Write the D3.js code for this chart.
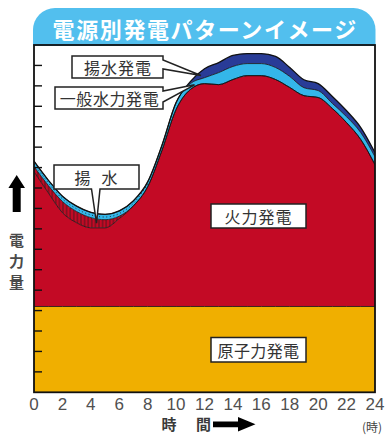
<!DOCTYPE html>
<html><head><meta charset="utf-8">
<script src="https://cdn.jsdelivr.net/npm/d3@7/dist/d3.min.js"></script>
<style>body{margin:0;background:#fff}</style>
</head><body>
<svg id="c" width="387" height="435"></svg>
<script>
// ---- data (units: relative power) ----
const hours      = [0,1,2,3,4,5,6,7,8,9,10,11,12,13,14,15,16,17,18,19,20,21,22,23,24];
const nuclear    = [4.2,4.2,4.2,4.2,4.2,4.2,4.2,4.2,4.2,4.2,4.2,4.2,4.2,4.2,4.2,4.2,4.2,4.2,4.2,4.2,4.2,4.2,4.2,4.2,4.2];
const thermal    = [6.60,5.57,4.59,4.10,3.85,3.85,4.30,4.93,5.86,7.63,9.64,10.62,10.91,10.86,11.11,11.30,11.30,11.11,10.72,10.32,10.23,9.69,9.00,8.17,6.94];
const pumping    = [0.25,0.36,0.55,0.55,0.50,0.40,0.12,0,0,0,0,0,0,0,0,0,0,0,0,0,0,0,0,0,0];
const hydro      = [0.26,0.26,0.26,0.26,0.26,0.26,0.26,0.25,0.24,0.25,0.34,0.29,0.29,0.59,0.64,0.59,0.59,0.59,0.54,0.39,0.34,0.25,0.29,0.34,0.39];
const pumpedGen  = [0,0,0,0,0,0,0,0,0,0,0,0.10,0.44,0.49,0.54,0.49,0.49,0.54,0.44,0.39,0.34,0.34,0.29,0.25,0.20];
const xTickValues = [0,2,4,6,8,10,12,14,16,18,20,22,24];
const yTickValues = [1,2,3,4,5,6,7,8,9,10,11,12,13,14,15,16];
const title = "電源別発電パターンイメージ";

const keys = ["nuclear","thermal","pumping","hydro","pumpedGen"];
const colors = {nuclear:"#F0AF00", thermal:"#C30A25", pumping:"url(#hatch)", hydro:"#34B6E9", pumpedGen:"#293C97"};

const rows = hours.map((h,i)=>({h, nuclear:nuclear[i], thermal:thermal[i], pumping:pumping[i], hydro:hydro[i], pumpedGen:pumpedGen[i]}));
const series = d3.stack().keys(keys)(rows);

const L=34, R=375, T=45, B=392.3;
const x = d3.scaleLinear([0,24],[L,R]);
const y = d3.scaleLinear([0,17],[B,T]);

const svg = d3.select("#c");
const defs = svg.append("defs");
const pat = defs.append("pattern").attr("id","hatch").attr("patternUnits","userSpaceOnUse").attr("width",3.6).attr("height",3);
pat.append("rect").attr("width",3.6).attr("height",3).attr("fill","#C30A25");
pat.append("line").attr("x1",1.8).attr("x2",1.8).attr("y1",0).attr("y2",3).attr("stroke","#1a1a1a").attr("stroke-width",0.7);
defs.append("clipPath").attr("id","plot").append("rect").attr("x",L).attr("y",T).attr("width",R-L).attr("height",B-T);

// header
const hr=22, hx0=33, hx1=375.5, hy0=8, hy1=46;
svg.append("path")
  .attr("d",`M${hx0},${hy1} V${hy0+hr} A${hr},${hr} 0 0 1 ${hx0+hr},${hy0} H${hx1-hr} A${hr},${hr} 0 0 1 ${hx1},${hy0+hr} V${hy1} Z`)
  .attr("fill","#52BFEE");
svg.append("text").attr("x",(hx0+hx1)/2+1).attr("y",28).attr("text-anchor","middle").attr("dominant-baseline","central")
  .attr("font-family","'Noto Sans CJK JP'").attr("font-weight","bold").attr("font-size",22).attr("letter-spacing",1.6)
  .attr("fill","#fff").text(title);

const g = svg.append("g").attr("clip-path","url(#plot)");
const area = d3.area().curve(d3.curveMonotoneX).x(d=>x(d.data.h)).y0(d=>y(d[0])).y1(d=>y(d[1]));
const topLine = d3.line().curve(d3.curveMonotoneX).x(d=>x(d.data.h)).y(d=>y(d[1]));

g.selectAll("path.a").data(series).join("path").attr("class","a")
  .attr("d",area).attr("fill",d=>colors[d.key]);
// dotted marks in the night hydro band
const nightHydro = series[3].filter(d=>d.data.h<=8);
g.append("path").attr("d", d3.line().curve(d3.curveMonotoneX).x(d=>x(d.data.h)).y(d=>y((d[0]+d[1])/2))(nightHydro))
  .attr("fill","none").attr("stroke","#222").attr("stroke-width",0.9).attr("stroke-dasharray","1,2.6");
g.selectAll("path.t").data(series).join("path").attr("class","t")
  .attr("d",topLine).attr("fill","none").attr("stroke","#111").attr("stroke-width",d=>d.key==="pumpedGen"?1.3:0.8);

// y ticks
svg.append("g").selectAll("line").data(yTickValues).join("line")
  .attr("x1",L).attr("x2",L+8).attr("y1",d=>y(d)).attr("y2",d=>y(d)).attr("stroke","#111").attr("stroke-width",1.4);

// border
svg.append("rect").attr("x",L).attr("y",T).attr("width",R-L).attr("height",B-T)
  .attr("fill","none").attr("stroke","#111").attr("stroke-width",1.8);

// x tick labels
svg.append("g").selectAll("text").data(xTickValues).join("text")
  .attr("x",d=>x(d)).attr("y",410).attr("text-anchor","middle")
  .attr("font-family","'Liberation Sans',Arial").attr("font-size",17).attr("fill","#505050").text(d=>d);
svg.append("text").attr("x",372).attr("y",432).attr("text-anchor","middle")
  .attr("font-family","'Noto Sans CJK JP'").attr("font-size",12).attr("fill","#444").text("(時)");

// x axis title with arrow
const jp = "'Noto Sans CJK JP'";
svg.append("text").attr("x",169).attr("y",430).attr("text-anchor","middle").attr("font-family",jp).attr("font-size",15).attr("font-weight","bold").attr("fill","#3a3a3a").text("時");
svg.append("text").attr("x",203.5).attr("y",430).attr("text-anchor","middle").attr("font-family",jp).attr("font-size",15).attr("font-weight","bold").attr("fill","#3a3a3a").text("間");
svg.append("path").attr("d","M213,421.5 H238 V417 L255.5,424.3 L238,431.6 V427.2 H213 Z").attr("fill","#000");

// y axis title with arrow
svg.append("path").attr("d","M16.7,175 L25,188 H20.7 V212 H12.7 V188 H8.4 Z").attr("fill","#000");
["電","力","量"].forEach((c,i)=>{
  svg.append("text").attr("x",16.5).attr("y",239+i*21).attr("text-anchor","middle").attr("dominant-baseline","central")
    .attr("font-family",jp).attr("font-size",15).attr("font-weight","bold").attr("fill","#4a4a4a").text(c);
});

// helpers for callouts
function interp(arr, h){ const i=Math.min(Math.floor(h),23), t=h-i; return arr[i]*(1-t)+arr[i+1]*t; }
function cum(h, upto){ let s=0; for(const k of keys.slice(0,upto)) s+=interp({nuclear,thermal,pumping,hydro,pumpedGen}[k],h); return s; }

function calloutRight(x0,y0,x1,y1,ty1,ty2,tip){
  return `M${x0},${y0} H${x1} V${ty1} L${tip[0]},${tip[1]} L${x1},${ty2} V${y1} H${x0} Z`;
}
function calloutBottom(x0,y0,x1,y1,tx1,tx2,tip){
  return `M${x0},${y0} H${x1} V${y1} H${tx2} L${tip[0]},${tip[1]} L${tx1},${y1} H${x0} Z`;
}
const boxStyle = s=>s.attr("fill","#fff").attr("stroke","#222").attr("stroke-width",1.5).attr("stroke-linejoin","miter");
const labelStyle = s=>s.attr("font-family",jp).attr("font-size",16).attr("fill","#333").attr("text-anchor","middle").attr("dominant-baseline","central");

// 揚水発電
const tipA = [x(11.75), y((cum(11.75,4)+cum(11.75,5))/2)];
svg.append("path").attr("d",calloutRight(72,56,163,78,60,69,tipA)).call(boxStyle);
svg.append("text").attr("x",118).attr("y",67).attr("letter-spacing",1).text("揚水発電").call(labelStyle);
// 一般水力発電
const tipB = [x(11.3), y((cum(11.3,3)+cum(11.3,4))/2)];
svg.append("path").attr("d",calloutRight(55,87,163,109,91,102,tipB)).call(boxStyle);
svg.append("text").attr("x",109.5).attr("y",98).attr("letter-spacing",0.6).text("一般水力発電").call(labelStyle);
// 揚 水
const tipC = [x(4.4), y((cum(4.4,2)+cum(4.4,3))/2)];
svg.append("path").attr("d",calloutBottom(54,165,139,189,91.5,100,tipC)).call(boxStyle);
svg.append("text").attr("x",82.5).attr("y",177).text("揚").call(labelStyle);
svg.append("text").attr("x",109.5).attr("y",177).text("水").call(labelStyle);
// 火力発電
svg.append("rect").attr("x",211).attr("y",204).attr("width",95).attr("height",24).call(boxStyle);
svg.append("text").attr("x",258.5).attr("y",216).attr("letter-spacing",1).text("火力発電").call(labelStyle);
// 原子力発電
svg.append("rect").attr("x",211).attr("y",337.5).attr("width",95).attr("height",24.5).call(boxStyle);
svg.append("text").attr("x",258.5).attr("y",350).attr("letter-spacing",0.4).text("原子力発電").call(labelStyle);
</script>
</body></html>
